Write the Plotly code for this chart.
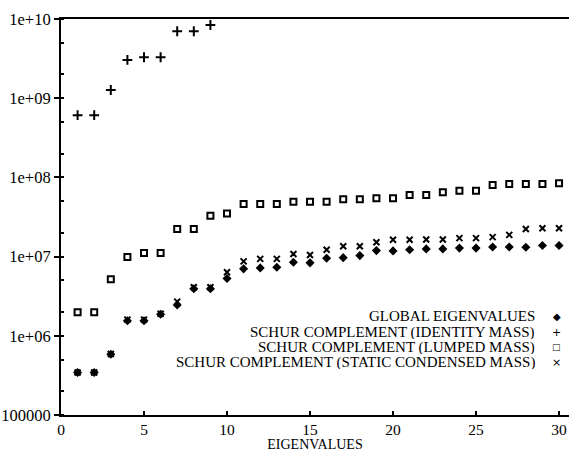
import plotly.graph_objects as go

idx = list(range(1, 31))
idx_identity = list(range(1, 10))

global_eig = [3.44e5, 3.44e5, 5.86e5, 1.55e6, 1.55e6, 1.87e6, 2.45e6, 3.92e6, 3.92e6, 5.3e6,
              7.0e6, 7.2e6, 7.35e6, 8.5e6, 8.34e6, 9.55e6, 9.7e6, 1.03e7, 1.19e7, 1.18e7,
              1.22e7, 1.25e7, 1.25e7, 1.28e7, 1.28e7, 1.32e7, 1.32e7, 1.31e7, 1.38e7, 1.38e7]
identity_mass = [6.1e8, 6.1e8, 1.27e9, 3.04e9, 3.29e9, 3.29e9, 7.0e9, 7.0e9, 8.4e9]
lumped_mass = [1.99e6, 1.99e6, 5.17e6, 9.9e6, 1.11e7, 1.11e7, 2.23e7, 2.23e7, 3.29e7, 3.5e7,
               4.6e7, 4.6e7, 4.6e7, 4.94e7, 4.94e7, 4.94e7, 5.3e7, 5.3e7, 5.45e7, 5.45e7,
               6.0e7, 6.0e7, 6.49e7, 6.8e7, 6.8e7, 8.0e7, 8.26e7, 8.26e7, 8.26e7, 8.43e7]
static_mass = [3.44e5, 3.44e5, 5.9e5, 1.6e6, 1.6e6, 1.9e6, 2.7e6, 4.1e6, 4.1e6, 6.35e6,
               8.7e6, 9.35e6, 9.35e6, 1.08e7, 1.05e7, 1.22e7, 1.35e7, 1.35e7, 1.52e7, 1.63e7,
               1.63e7, 1.64e7, 1.64e7, 1.71e7, 1.71e7, 1.76e7, 1.88e7, 2.23e7, 2.28e7, 2.28e7]

series_names = ["GLOBAL EIGENVALUES",
                "SCHUR COMPLEMENT (IDENTITY MASS)",
                "SCHUR COMPLEMENT (LUMPED MASS)",
                "SCHUR COMPLEMENT (STATIC CONDENSED MASS)"]
legend_glyphs = ["\u25c6", "+", "\u25a1", "\u00d7"]
legend_glyph_sizes = [10, 11, 9, 11]

x_ticks = [0, 5, 10, 15, 20, 25, 30]
y_ticks = [1e5, 1e6, 1e7, 1e8, 1e9, 1e10]
y_ticktext = ["100000", "1e+06", "1e+07", "1e+08", "1e+09", "1e+10"]

FONT = "Liberation Serif, Times New Roman, serif"

fig = go.Figure()
fig.add_trace(go.Scatter(x=idx, y=static_mass, mode="markers", name=series_names[3],
                         marker=dict(symbol="x-thin", size=6, color="black",
                                     line=dict(width=2, color="black"))))
fig.add_trace(go.Scatter(x=idx, y=global_eig, mode="markers", name=series_names[0],
                         marker=dict(symbol="diamond", size=7, color="black",
                                     line=dict(width=0))))
fig.add_trace(go.Scatter(x=idx_identity, y=identity_mass, mode="markers", name=series_names[1],
                         marker=dict(symbol="cross-thin", size=7, color="black",
                                     line=dict(width=2, color="black"))))
fig.add_trace(go.Scatter(x=idx, y=lumped_mass, mode="markers", name=series_names[2],
                         marker=dict(symbol="square-open", size=6, color="black",
                                     line=dict(width=2, color="black"))))

row_y = [0.25, 0.2096, 0.1717, 0.1338]
annotations = []
for name, glyph, gsize, ry in zip(series_names, legend_glyphs, legend_glyph_sizes, row_y):
    annotations.append(dict(xref="paper", yref="paper", x=0.937, y=ry, text=name,
                            showarrow=False, xanchor="right", yanchor="middle", height=14,
                            font=dict(family=FONT, size=15, color="black")))
    annotations.append(dict(xref="paper", yref="paper", x=0.976, y=ry, text=glyph,
                            showarrow=False, xanchor="center", yanchor="middle", height=14,
                            font=dict(family="DejaVu Sans", size=gsize, color="black")))

fig.update_layout(
    width=569, height=452,
    margin=dict(l=61, r=0, t=19, b=37, autoexpand=False),
    paper_bgcolor="white", plot_bgcolor="white",
    showlegend=False,
    font=dict(family=FONT, size=16, color="black"),
    annotations=annotations,
    xaxis=dict(range=[0, 30.6], tickvals=x_ticks, ticks="inside", ticklen=4,
               tickwidth=1.5, tickcolor="black", automargin=False,
               showline=True, linecolor="black", linewidth=1.5, mirror=True,
               showgrid=False, zeroline=False,
               tickfont=dict(family=FONT, size=15.5, color="black"),
               title=dict(text="EIGENVALUES",
                          font=dict(family=FONT, size=14, color="black"))),
    yaxis=dict(type="log", range=[5, 10], tickvals=y_ticks, ticktext=y_ticktext,
               ticks="outside", ticklen=5, tickwidth=1.5, tickcolor="black",
               automargin=False,
               showline=True, linecolor="black", linewidth=2, mirror=False,
               showgrid=False, zeroline=False,
               tickfont=dict(family=FONT, size=16.5, color="black"),
               minor=dict(ticks="inside", ticklen=3, tickcolor="black", dtick="D2",
                          showgrid=False)),
)

fig.write_html("out.html", config={"displayModeBar": False},
               post_script="document.body.style.margin='0';document.body.style.overflow='hidden';")
